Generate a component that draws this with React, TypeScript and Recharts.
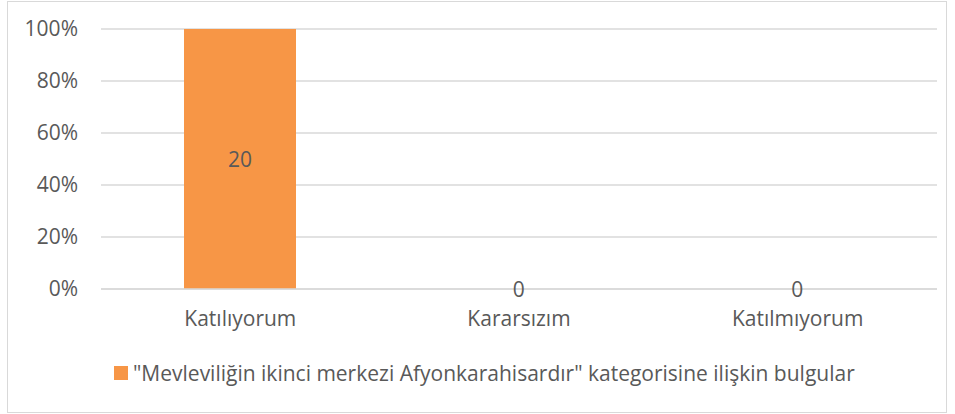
import { BarChart, Bar, XAxis, YAxis, CartesianGrid, LabelList } from 'recharts';

const categories = ['Katılıyorum', 'Kararsızım', 'Katılmıyorum'];
const counts = [20, 0, 0];
const yTicks = [0, 20, 40, 60, 80, 100];
const seriesName = '"Mevleviliğin ikinci merkezi Afyonkarahisardır" kategorisine ilişkin bulgular';

// 100% stacked: one series, so each category's share of its own total
const data = categories.map((name, i) => ({
  name,
  count: counts[i],
  pct: counts[i] ? (counts[i] / counts[i]) * 100 : 0,
}));

const FONT = '"Open Sans", sans-serif';
const TEXT = '#595959';
const GRID = '#d9d9d9';
const ORANGE = '#f79646';
const FS = 21;

const CenterLabel = (props: any) => {
  const { x, y, width, height, value } = props;
  return (
    <text
      x={Number(x) + Number(width) / 2}
      y={Number(y) + Number(height) / 2}
      textAnchor="middle"
      dominantBaseline="central"
      fill={TEXT}
      style={{ fontFamily: FONT, fontSize: FS }}
    >
      {value}
    </text>
  );
};

const App = () => {
  return (
    <div style={{ position: 'absolute', left: 0, top: 0, width: 955, height: 414, background: '#fff' }}>
      <div style={{ position: 'absolute', left: 7, top: 1, width: 938, height: 410, border: `1px solid ${GRID}` }} />
      <BarChart
        width={955}
        height={414}
        data={data}
        margin={{ top: 29, right: 18, bottom: 95, left: 0 }}
        barCategoryGap="30%"
      >
        <CartesianGrid vertical={false} stroke={GRID} strokeWidth={1.5} />
        <XAxis
          dataKey="name"
          tickLine={false}
          axisLine={{ stroke: GRID, strokeWidth: 1.5 }}
          tickSize={0}
          tickMargin={22}
          tick={{ fill: TEXT, fontFamily: FONT, fontSize: FS }}
        />
        <YAxis
          width={101}
          domain={[0, 100]}
          ticks={yTicks}
          tickFormatter={(v: number) => `${v}%`}
          axisLine={false}
          tickLine={false}
          tickSize={0}
          tickMargin={23}
          tick={{ fill: TEXT, fontFamily: FONT, fontSize: FS }}
        />
        {/* tiny minPointSize so the zero bars still get their "0" labels */}
        <Bar
          dataKey="pct"
          fill={ORANGE}
          barSize={112}
          minPointSize={0.01}
          name={seriesName}
          isAnimationActive={false}
        >
          <LabelList dataKey="count" content={CenterLabel} />
        </Bar>
      </BarChart>
      <div
        style={{
          position: 'absolute',
          left: 114,
          top: 358,
          height: 30,
          display: 'flex',
          alignItems: 'center',
          fontFamily: FONT,
          fontSize: FS,
          color: TEXT,
          whiteSpace: 'nowrap',
        }}
      >
        <span style={{ display: 'inline-block', width: 14, height: 14, background: ORANGE, marginRight: 5 }} />
        <span>{seriesName}</span>
      </div>
    </div>
  );
};

export default App;
